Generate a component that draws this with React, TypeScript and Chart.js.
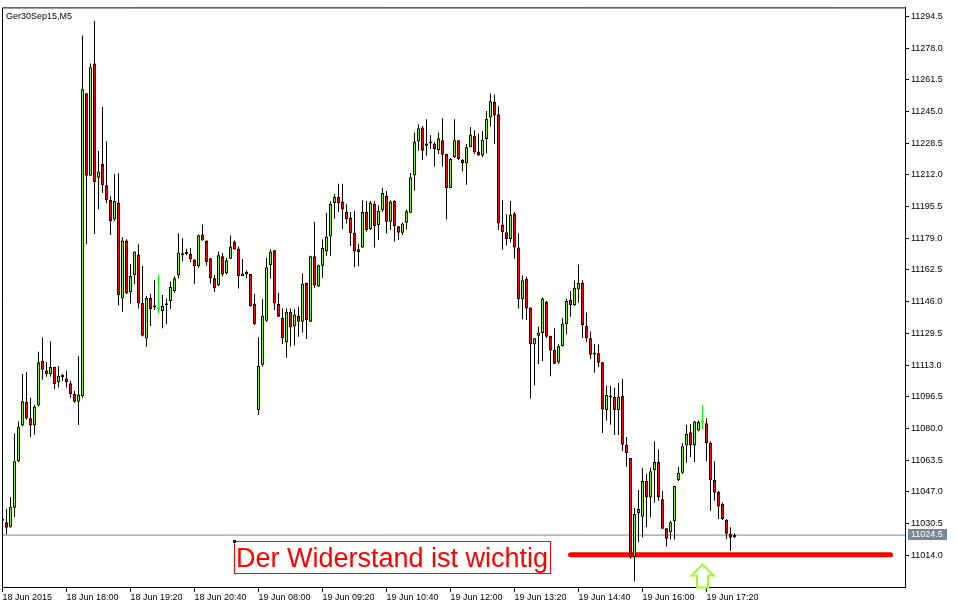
import { useEffect, useRef } from "react";
import { Chart, registerables } from "chart.js";

Chart.register(...registerables);

// ---- data (5-minute bars, Ger30Sep15) ----
const opens = [
  11032.0, 11031.2, 11028.9, 11038.8, 11063.0, 11081.6, 11093.9, 11085.3, 11081.6, 11092.0,
  11115.1, 11110.2, 11108.4, 11112.0, 11104.0, 11107.2, 11106.0, 11103.5, 11098.0, 11093.9,
  11096.9, 11254.5, 11211.5, 11270.0, 11210.5, 11217.7, 11206.6, 11198.9, 11188.8, 11197.6,
  11147.7, 11177.8, 11151.0, 11159.8, 11170.6, 11145.3, 11126.8, 11147.9, 11143.7, 11142.0,
  11141.2, 11144.1, 11146.3, 11151.5, 11159.8, 11170.1, 11170.8, 11170.8, 11168.0, 11164.4,
  11181.0, 11177.8, 11168.6, 11158.2, 11154.6, 11169.6, 11160.8, 11168.3, 11177.3, 11173.7,
  11159.3, 11161.6, 11160.4, 11145.0, 11089.6, 11113.2, 11136.0, 11164.9, 11172.7, 11144.8,
  11137.6, 11124.7, 11140.7, 11133.1, 11138.6, 11135.5, 11155.8, 11135.5, 11169.6, 11153.9,
  11164.7, 11172.1, 11179.9, 11197.4, 11200.5, 11198.1, 11192.6, 11189.8, 11181.9, 11171.8,
  11174.2, 11192.6, 11183.8, 11197.0, 11185.9, 11193.6, 11201.0, 11187.6, 11198.4, 11185.3,
  11181.9, 11187.1, 11192.3, 11211.6, 11229.4, 11236.6, 11227.1, 11228.9, 11228.3, 11224.9,
  11230.0, 11222.8, 11205.1, 11221.1, 11230.0, 11219.7, 11218.0, 11226.3, 11232.3, 11224.2,
  11222.0, 11230.6, 11241.8, 11250.0, 11243.5, 11186.2, 11182.1, 11178.6, 11191.9, 11174.2,
  11147.2, 11157.9, 11142.9, 11123.7, 11128.3, 11129.7, 11146.0, 11128.3, 11120.9, 11114.4,
  11122.9, 11134.3, 11146.9, 11144.1, 11152.3, 11155.8, 11133.5, 11126.9, 11119.2, 11119.2,
  11114.5, 11089.6, 11096.9, 11096.5, 11089.6, 11097.0, 11071.5, 11064.7, 11013.1, 11035.9,
  11034.1, 11052.7, 11044.1, 11058.2, 11062.5, 11043.2, 11028.1, 11026.0, 11031.7, 11053.1,
  11057.0, 11071.1, 11078.0, 11071.1, 11079.0, 11083.1, 11082.7, 11072.4, 11053.2, 11047.1,
  11040.7, 11032.4, 11025.2, 11023.5,
];
const highs = [
  11033.5, 11038.2, 11044.4, 11077.4, 11083.6, 11108.4, 11109.4, 11096.0, 11092.4, 11119.9,
  11127.3, 11114.5, 11125.4, 11112.0, 11112.5, 11108.4, 11110.2, 11104.9, 11099.6, 11117.6,
  11284.5, 11254.5, 11270.0, 11292.2, 11224.4, 11247.3, 11229.5, 11200.8, 11212.3, 11212.8,
  11179.5, 11178.5, 11165.6, 11172.1, 11175.9, 11164.6, 11148.9, 11150.1, 11157.1, 11160.1,
  11149.4, 11147.7, 11156.5, 11159.2, 11181.6, 11179.0, 11173.5, 11173.9, 11168.0, 11181.0,
  11186.2, 11177.8, 11168.6, 11159.9, 11172.1, 11171.3, 11168.7, 11180.4, 11178.0, 11174.7,
  11168.2, 11162.4, 11160.4, 11150.1, 11127.5, 11147.2, 11168.7, 11173.3, 11172.7, 11150.6,
  11142.4, 11142.4, 11142.4, 11142.0, 11143.3, 11160.6, 11155.8, 11169.9, 11187.6, 11165.3,
  11178.5, 11192.3, 11198.2, 11202.2, 11207.4, 11207.4, 11196.7, 11192.6, 11193.3, 11176.1,
  11198.8, 11198.4, 11198.4, 11198.4, 11196.2, 11205.3, 11203.6, 11198.8, 11198.8, 11185.3,
  11187.1, 11193.9, 11212.9, 11234.0, 11238.3, 11237.4, 11240.9, 11232.6, 11228.9, 11234.0,
  11241.4, 11222.8, 11220.8, 11240.9, 11230.0, 11220.2, 11228.0, 11236.9, 11235.2, 11233.5,
  11234.8, 11245.2, 11254.3, 11253.8, 11247.7, 11198.8, 11191.5, 11198.4, 11192.6, 11181.6,
  11159.6, 11159.0, 11142.9, 11126.9, 11133.0, 11148.1, 11146.4, 11128.3, 11132.2, 11124.0,
  11137.4, 11147.7, 11151.5, 11157.0, 11165.3, 11157.1, 11140.3, 11130.5, 11124.0, 11123.7,
  11114.5, 11102.2, 11102.2, 11101.2, 11103.7, 11105.9, 11075.6, 11064.7, 11038.6, 11048.0,
  11059.5, 11056.4, 11059.5, 11073.3, 11069.0, 11047.5, 11028.1, 11032.0, 11050.1, 11059.9,
  11072.5, 11082.0, 11082.3, 11084.0, 11084.1, 11092.3, 11085.3, 11073.3, 11063.0, 11047.5,
  11041.5, 11032.9, 11028.6, 11025.5,
];
const lows = [
  11031.0, 11025.0, 11028.4, 11033.9, 11062.5, 11081.0, 11084.6, 11075.6, 11076.8, 11091.5,
  11105.4, 11106.9, 11106.9, 11100.6, 11101.3, 11104.8, 11101.3, 11096.0, 11093.4, 11081.8,
  11096.0, 11175.9, 11211.5, 11181.2, 11194.1, 11202.5, 11197.2, 11180.7, 11187.9, 11144.0,
  11140.8, 11149.8, 11145.1, 11155.0, 11142.4, 11127.9, 11122.6, 11133.3, 11141.7, 11139.8,
  11132.2, 11134.3, 11142.2, 11150.6, 11158.0, 11167.0, 11170.1, 11166.6, 11155.0, 11163.7,
  11177.8, 11164.7, 11155.5, 11151.0, 11154.1, 11159.1, 11160.3, 11168.3, 11173.2, 11152.9,
  11159.3, 11158.0, 11143.4, 11133.8, 11087.0, 11112.3, 11135.5, 11158.0, 11141.7, 11138.1,
  11124.0, 11116.8, 11122.6, 11123.2, 11127.8, 11130.0, 11126.6, 11135.5, 11153.2, 11153.6,
  11158.4, 11169.9, 11169.9, 11189.3, 11192.6, 11183.8, 11186.7, 11175.0, 11163.9, 11164.4,
  11173.9, 11182.4, 11183.3, 11174.2, 11178.1, 11192.6, 11181.6, 11183.3, 11177.3, 11178.1,
  11180.7, 11183.6, 11192.3, 11203.9, 11224.5, 11219.7, 11221.9, 11225.4, 11216.3, 11222.8,
  11216.3, 11188.8, 11205.1, 11220.8, 11219.7, 11213.7, 11206.8, 11226.3, 11222.8, 11222.0,
  11221.1, 11223.2, 11237.1, 11228.0, 11183.3, 11173.0, 11175.2, 11176.9, 11168.3, 11142.5,
  11136.9, 11136.4, 11095.6, 11102.5, 11113.4, 11115.1, 11127.1, 11107.2, 11113.7, 11113.7,
  11122.6, 11129.1, 11138.1, 11143.8, 11145.5, 11127.1, 11124.9, 11116.1, 11109.0, 11112.0,
  11077.6, 11084.1, 11081.9, 11076.6, 11076.6, 11068.1, 11060.1, 11012.2, 11000.4, 11020.8,
  11023.4, 11028.6, 11033.7, 11041.5, 11042.4, 11027.8, 11018.6, 11022.2, 11022.2, 11052.7,
  11056.5, 11062.2, 11065.1, 11062.5, 11078.5, 11079.3, 11063.0, 11037.2, 11042.4, 11032.9,
  11032.4, 11022.3, 11016.2, 11023.0,
];
const closes = [
  11032.5, 11028.4, 11039.3, 11063.0, 11081.0, 11094.2, 11085.2, 11081.6, 11091.5, 11114.5,
  11110.5, 11108.4, 11112.0, 11103.2, 11107.5, 11106.8, 11104.0, 11098.0, 11093.9, 11097.7,
  11256.6, 11211.5, 11268.0, 11208.2, 11213.7, 11206.6, 11198.9, 11187.9, 11198.4, 11149.3,
  11177.8, 11150.3, 11159.3, 11172.1, 11145.1, 11128.3, 11147.9, 11142.2, 11142.9, 11142.0,
  11143.8, 11145.1, 11153.6, 11158.2, 11171.6, 11170.8, 11171.8, 11168.0, 11164.4, 11180.5,
  11177.8, 11166.5, 11158.0, 11153.1, 11170.2, 11160.1, 11167.5, 11174.7, 11173.2, 11159.3,
  11160.6, 11160.1, 11143.8, 11134.3, 11112.5, 11138.7, 11163.9, 11172.1, 11145.1, 11138.1,
  11127.1, 11140.7, 11132.6, 11139.3, 11135.5, 11155.3, 11136.5, 11169.6, 11154.4, 11165.0,
  11173.9, 11179.9, 11197.0, 11200.5, 11197.4, 11193.9, 11188.9, 11181.6, 11172.1, 11173.3,
  11192.6, 11183.3, 11197.6, 11185.3, 11193.3, 11202.6, 11187.6, 11198.1, 11185.3, 11181.9,
  11186.7, 11193.1, 11210.8, 11229.4, 11236.2, 11224.5, 11228.3, 11228.3, 11225.3, 11231.1,
  11222.5, 11205.1, 11220.2, 11230.0, 11220.2, 11218.0, 11226.3, 11233.0, 11223.7, 11222.0,
  11230.2, 11241.2, 11250.3, 11242.9, 11186.7, 11182.1, 11178.6, 11191.4, 11174.2, 11147.2,
  11157.2, 11142.5, 11124.0, 11126.9, 11130.0, 11147.7, 11127.8, 11120.6, 11113.7, 11122.8,
  11134.6, 11146.4, 11144.1, 11153.2, 11155.8, 11133.9, 11127.1, 11118.4, 11118.5, 11114.2,
  11089.9, 11097.4, 11096.1, 11089.6, 11096.5, 11071.5, 11067.2, 11012.8, 11035.5, 11038.1,
  11052.7, 11044.1, 11057.8, 11062.5, 11044.1, 11027.8, 11022.6, 11031.2, 11050.1, 11057.0,
  11070.8, 11077.3, 11071.1, 11083.6, 11083.4, 11083.1, 11072.4, 11053.2, 11046.6, 11039.4,
  11032.9, 11025.2, 11023.1, 11024.5,
];

const tickBars = [0, 16, 32, 48, 64, 80, 96, 112, 128, 144, 160, 176];
const tickLabels = [
  "18 Jun 2015", "18 Jun 18:00", "18 Jun 19:20", "18 Jun 20:40",
  "19 Jun 08:00", "19 Jun 09:20", "19 Jun 10:40", "19 Jun 12:00",
  "19 Jun 13:20", "19 Jun 14:40", "19 Jun 16:00", "19 Jun 17:20",
];
const priceTicks = [
  11014.0, 11030.5, 11047.0, 11063.5, 11080.0, 11096.5, 11113.0, 11129.5, 11146.0,
  11162.5, 11179.0, 11195.5, 11212.0, 11228.5, 11245.0, 11261.5, 11278.0, 11294.5,
];

const title = "Ger30Sep15,M5";
const noteText = "Der Widerstand ist wichtig";
const noteBar = 58;
const notePrice = 11021.2;
const lineStartBar = 142;
const lineEndBar = 222;
const linePrice = 11014.3;
const arrowBar = 175;
const arrowPrice = 11009.2;

const X_MIN = -0.125;
const X_MAX = 225.625;
const Y_MIN = 10997.5;
const Y_MAX = 11299.14;

const GREEN = "#7FFF00";
const RED = "#FF0000";
const DOJI = "#00FF00";
const FONT = "'Liberation Sans', Arial, sans-serif";

export default function App() {
  const ref = useRef<HTMLCanvasElement>(null);

  useEffect(() => {
    document.body.style.margin = "0";
    const canvas = ref.current;
    if (!canvas) return;
    const lastClose = closes[closes.length - 1];
    const idx = opens.map((_, i) => i);
    const bodyColors = opens.map((o, i) => (closes[i] > o ? GREEN : closes[i] < o ? RED : DOJI));
    const bodyBorders = opens.map((o, i) => (closes[i] === o ? DOJI : "#000000"));
    const wickColors = opens.map((o, i) => (closes[i] === o ? DOJI : "#000000"));

    const overlay = {
      id: "overlay",
      afterDraw(chart: any) {
        const { ctx, chartArea, scales } = chart;
        const xs = scales.x;
        const ys = scales.y;
        ctx.save();
        // frame (left & top)
        ctx.strokeStyle = "#000";
        ctx.lineWidth = 1;
        ctx.beginPath();
        ctx.moveTo(chartArea.left + 0.5, chartArea.bottom + 0.5);
        ctx.lineTo(chartArea.left + 0.5, chartArea.top + 0.5);
        ctx.lineTo(chartArea.right + 0.5, chartArea.top + 0.5);
        ctx.stroke();
        // title
        ctx.font = `9px ${FONT}`;
        ctx.fillStyle = "#000";
        ctx.textAlign = "left";
        ctx.textBaseline = "middle";
        ctx.fillText(title, chartArea.left + 4, chartArea.top + 9);
        // text label with box
        const ax = Math.floor(xs.getPixelForValue(noteBar));
        const ay = Math.round(ys.getPixelForValue(notePrice));
        ctx.font = `27px ${FONT}`;
        const w = ctx.measureText(noteText).width;
        ctx.strokeStyle = RED;
        ctx.strokeRect(ax + 0.5, ay + 0.5, Math.round(w) + 4, 32);
        ctx.fillStyle = RED;
        ctx.textBaseline = "alphabetic";
        ctx.fillText(noteText, ax + 2, ay + 26);
        ctx.fillStyle = "#400000";
        ctx.fillRect(ax - 1, ay - 1, 3, 3);
        // arrow
        const tx = xs.getPixelForValue(arrowBar);
        const ty = ys.getPixelForValue(arrowPrice);
        ctx.beginPath();
        ctx.moveTo(tx, ty);
        ctx.lineTo(tx + 11, ty + 11);
        ctx.lineTo(tx + 5.5, ty + 11);
        ctx.lineTo(tx + 5.5, ty + 23);
        ctx.lineTo(tx - 5.5, ty + 23);
        ctx.lineTo(tx - 5.5, ty + 11);
        ctx.lineTo(tx - 11, ty + 11);
        ctx.closePath();
        ctx.strokeStyle = "#9AFF22";
        ctx.lineWidth = 2;
        ctx.stroke();
        // bid label on axis
        const by = Math.round(ys.getPixelForValue(lastClose));
        ctx.fillStyle = "#778899";
        ctx.fillRect(ys.left + 3, by - 6, 39, 11);
        ctx.fillStyle = "#FFFFFF";
        ctx.font = `9px ${FONT}`;
        ctx.textBaseline = "middle";
        ctx.fillText(lastClose.toFixed(1), ys.left + 6, by);
        ctx.restore();
      },
    };

    const chart = new Chart(canvas, {
      type: "bar",
      data: {
        datasets: [
          {
            type: "bar",
            data: idx.map((i) => ({ x: i, y: [opens[i], closes[i]] })),
            backgroundColor: bodyColors,
            borderColor: bodyBorders,
            borderWidth: 1,
            borderSkipped: false,
            barThickness: 3,
            maxBarThickness: 3,
            minBarLength: 2,
            grouped: false,
            inflateAmount: 0,
            order: 0,
          } as any,
          {
            type: "bar",
            data: idx.map((i) => ({ x: i, y: [lows[i], highs[i]] })),
            backgroundColor: wickColors,
            borderWidth: 0,
            barThickness: 1,
            maxBarThickness: 1,
            grouped: false,
            inflateAmount: 0,
            order: 1,
          } as any,
          {
            type: "line",
            data: [
              { x: lineStartBar, y: linePrice },
              { x: lineEndBar, y: linePrice },
            ],
            borderColor: RED,
            borderWidth: 5,
            borderCapStyle: "round",
            pointRadius: 0,
            order: 2,
          } as any,
          {
            type: "line",
            data: [
              { x: X_MIN, y: lastClose },
              { x: X_MAX, y: lastClose },
            ],
            borderColor: "#778899",
            borderWidth: 1,
            pointRadius: 0,
            order: 3,
          } as any,
        ],
      },
      options: {
        responsive: false,
        animation: false,
        devicePixelRatio: 1,
        events: [],
        layout: { padding: { left: 2, top: 2, right: 0, bottom: 0 } },
        plugins: { legend: { display: false }, tooltip: { enabled: false } },
        scales: {
          x: {
            type: "linear",
            position: "bottom",
            min: X_MIN,
            max: X_MAX,
            offset: false,
            bounds: "data",
            grid: { drawOnChartArea: false, drawTicks: true, tickLength: 5, color: "#000", offset: false },
            border: { display: true, color: "#000", width: 1 },
            afterBuildTicks: (scale: any) => {
              scale.ticks = tickBars.map((v) => ({ value: v }));
            },
            afterFit: (scale: any) => {
              scale.height = 21;
            },
            ticks: {
              autoSkip: false,
              maxRotation: 0,
              minRotation: 0,
              align: "start",
              padding: 0,
              color: "#000",
              font: { family: FONT, size: 9 },
              callback: (_v: any, i: number) => tickLabels[i],
            },
          } as any,
          y: {
            type: "linear",
            position: "right",
            min: Y_MIN,
            max: Y_MAX,
            bounds: "data",
            beginAtZero: false,
            grid: { drawOnChartArea: false, drawTicks: true, tickLength: 4, color: "#000" },
            border: { display: true, color: "#000", width: 1 },
            afterBuildTicks: (scale: any) => {
              scale.ticks = priceTicks.map((v) => ({ value: v }));
            },
            afterFit: (scale: any) => {
              scale.width = 53;
            },
            ticks: {
              autoSkip: false,
              padding: 2,
              color: "#000",
              font: { family: FONT, size: 9 },
              callback: (v: any) => Number(v).toFixed(1),
            },
          } as any,
        },
      },
      plugins: [overlay],
    } as any);

    return () => chart.destroy();
  }, []);

  return <canvas ref={ref} width={958} height={608} style={{ display: "block" }} />;
}
